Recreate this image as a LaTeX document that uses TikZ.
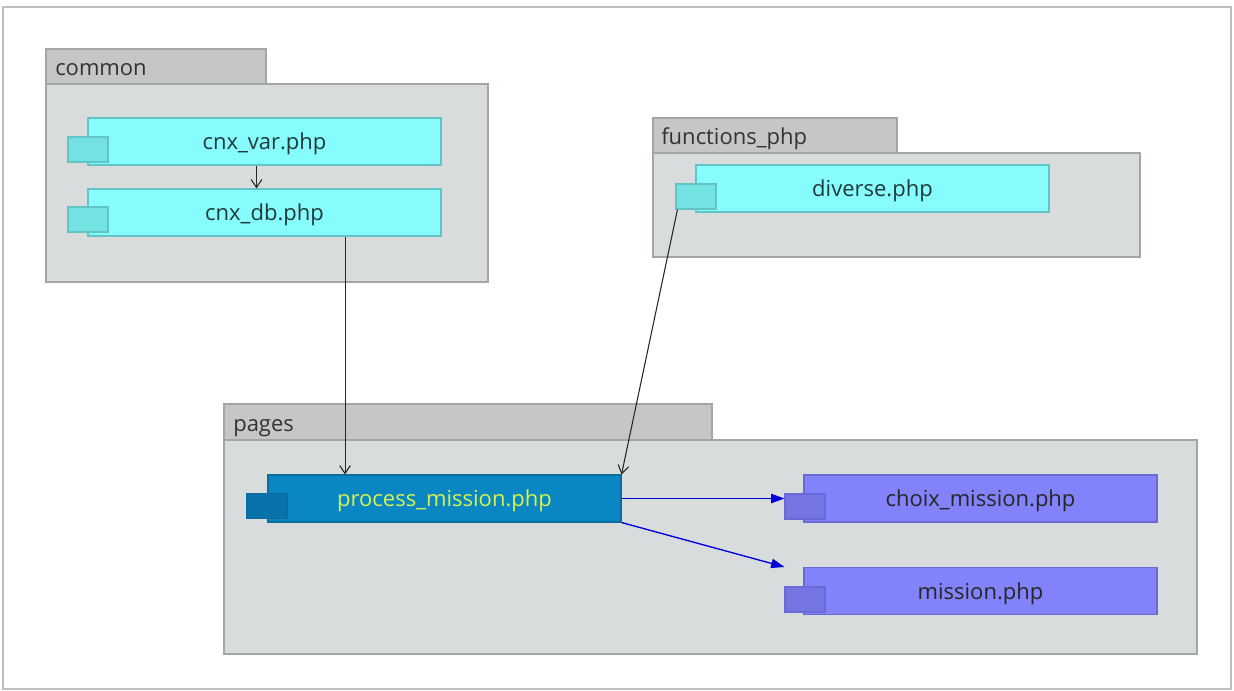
\documentclass[tikz,border=0pt]{standalone}
\usepackage{fontspec}
\setmainfont{Open Sans}
\usetikzlibrary{arrows.meta}

\definecolor{pkgfill}{HTML}{D9DCDC}
\definecolor{pkgtabfill}{HTML}{C5C7C7}
\definecolor{pkgline}{HTML}{A3A6A6}
\definecolor{cyanfill}{HTML}{86FCFC}
\definecolor{cyanline}{HTML}{62C4C4}
\definecolor{cyantab}{HTML}{74E2E2}
\definecolor{bluefill}{HTML}{0A87C2}
\definecolor{blueline}{HTML}{0A6D9E}
\definecolor{bluetab}{HTML}{0A72AA}
\definecolor{bluetext}{HTML}{D6F24E}
\definecolor{violetfill}{HTML}{8282FA}
\definecolor{violetline}{HTML}{6A6AD6}
\definecolor{violettab}{HTML}{7474E2}
\definecolor{darktext}{HTML}{1F3A3A}

\begin{document}
\begin{tikzpicture}[x=0.75pt, y=-0.75pt,
    font=\fontsize{16.5}{19}\selectfont,
    pkg/.style={draw=pkgline, fill=pkgfill, line width=0.8pt},
    pkgtab/.style={draw=pkgline, fill=pkgtabfill, line width=0.8pt},
    pkglabel/.style={anchor=base west, text=black!80, inner sep=0pt},
    comp/.style={rectangle, minimum width=264.75pt, minimum height=35.25pt,
        inner sep=0pt, text depth=0pt, line width=0.8pt},
    comptab/.style={rectangle, minimum width=30pt, minimum height=18.75pt,
        inner sep=0pt, line width=0.8pt},
    cyancomp/.style={comp, draw=cyanline, fill=cyanfill, text=darktext},
    cyantab/.style={comptab, draw=cyanline, fill=cyantab},
    bluecomp/.style={comp, draw=blueline, fill=bluefill, text=bluetext},
    bluetab/.style={comptab, draw=blueline, fill=bluetab},
    violetcomp/.style={comp, draw=violetline, fill=violetfill, text=black!85},
    violettab/.style={comptab, draw=violetline, fill=violettab},
    dep/.style={-{Straight Barb[length=6pt, width=8pt]}, line width=0.8pt, black!85},
    call/.style={-{Triangle[length=10pt, width=7pt]}, line width=1pt, blue!85!black}]

    % Frame
    \useasboundingbox (0,0) rectangle (1234,691);
    \draw[black!25, line width=1pt] (3,7) rectangle (1231,689);

    % Package common
    \draw[pkgtab] (46,49) rectangle (266,84);
    \draw[pkg] (46,84) rectangle (488,282);
    \node[pkglabel] (common) at (55,76) {common};

    % Package functions_php
    \draw[pkgtab] (653,118) rectangle (897,153);
    \draw[pkg] (653,153) rectangle (1140,257);
    \node[pkglabel] (functions) at (661,145) {functions\_php};

    % Package pages
    \draw[pkgtab] (224,404) rectangle (712,440);
    \draw[pkg] (224,440) rectangle (1197,654);
    \node[pkglabel] (pages) at (233,431) {pages};

    % Components
    \node[cyancomp] (var) at (264.5,141.5) {cnx\_var.php};
    \node[cyantab] (var-tab) at (88,149.5) {};
    \node[cyancomp] (db) at (264.5,212.5) {cnx\_db.php};
    \node[cyantab] (db-tab) at (88,219.5) {};

    \node[cyancomp] (diverse) at (872.5,188.5) {diverse.php};
    \node[cyantab] (diverse-tab) at (696,196.5) {};

    \node[bluecomp] (process) at (444.5,498.5) {process\_mission.php};
    \node[bluetab] (process-tab) at (267,506) {};

    \node[violetcomp] (choix) at (980.5,498.5) {choix\_mission.php};
    \node[violettab] (choix-tab) at (805,506.5) {};
    \node[violetcomp] (mission) at (980.5,591) {mission.php};
    \node[violettab] (mission-tab) at (805,599.5) {};

    % Dependencies
    \draw[dep] ([xshift=-6pt]var.south) -- ([xshift=-6pt]db.north);
    \draw[dep] ([xshift=60.4pt]db.south) -- ([xshift=60.4pt]db.south |- process.north);
    \draw[dep] ([xshift=1.5pt]diverse-tab.south west) -- (process.north east);

    % Calls
    \draw[call] (process.east) -- (process.east -| choix-tab.west);
    \draw[call] (process.south east) -- (mission-tab.west |- mission.north);
\end{tikzpicture}
\end{document}
